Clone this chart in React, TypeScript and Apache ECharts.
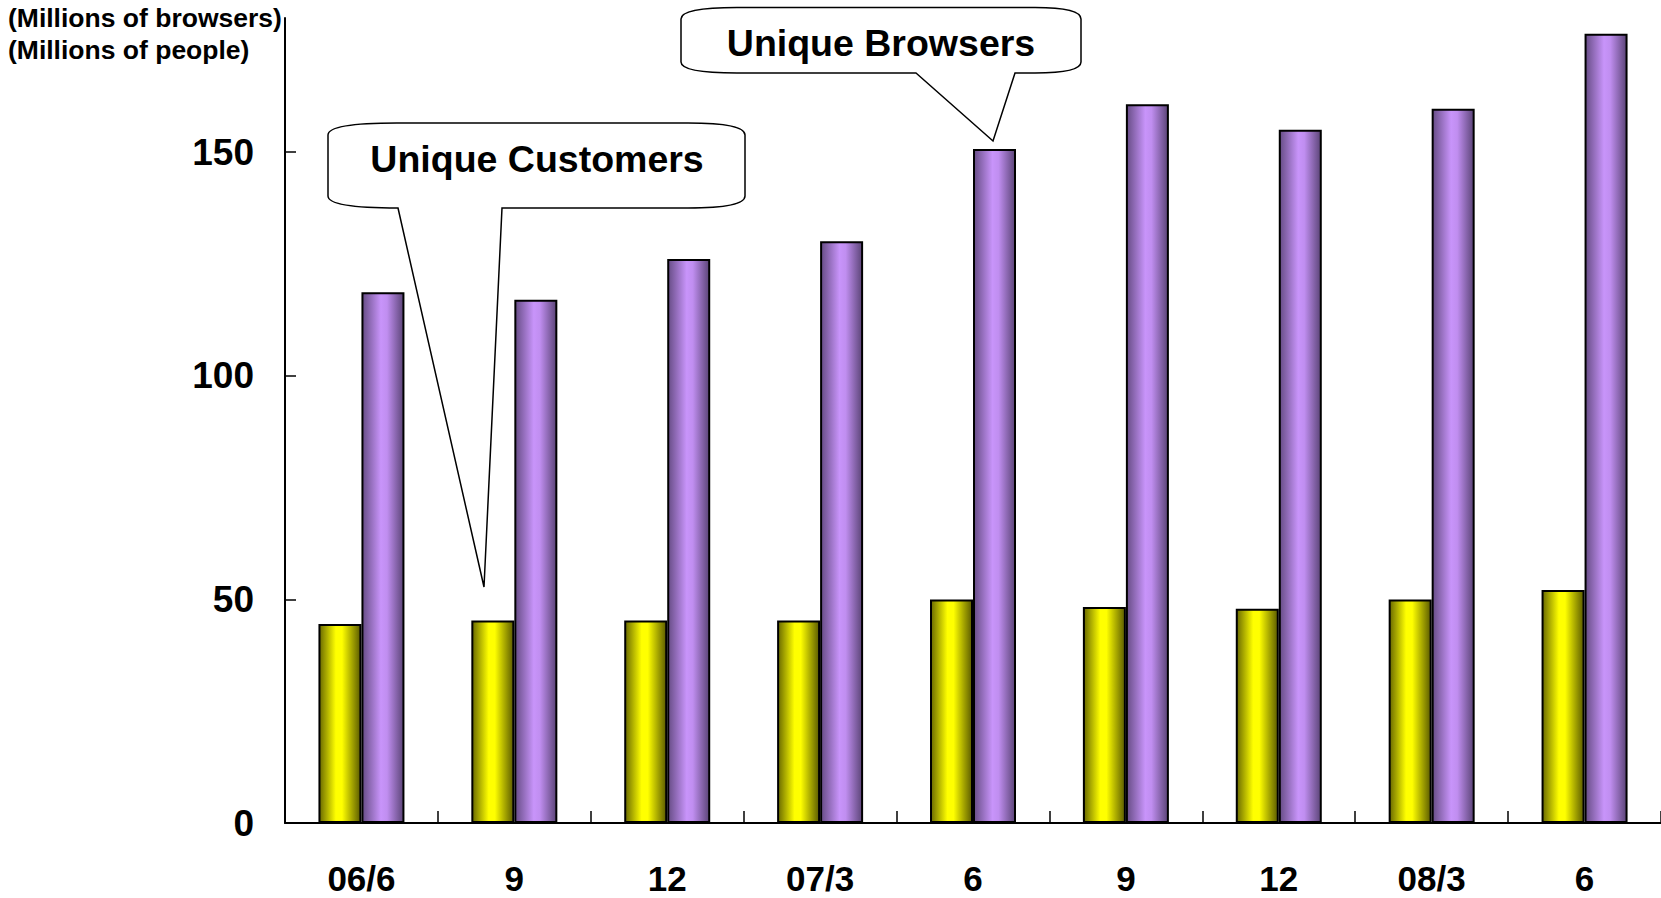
import React, { useEffect, useRef } from "react";
import * as echarts from "echarts";

const categories = ["06/6", "9", "12", "07/3", "6", "9", "12", "08/3", "6"];
const uniqueCustomers = [44.5, 45.3, 45.3, 45.3, 50.0, 48.3, 47.9, 50.0, 52.1];
const uniqueBrowsers = [118.7, 117.0, 126.1, 130.1, 150.7, 160.7, 155.0, 159.7, 176.5];
const yTicks = [0, 50, 100, 150];
const unitLines = ["(Millions of browsers)", "(Millions of people)"];
const calloutTexts = ["Unique Customers", "Unique Browsers"];

const FONT = "'Liberation Sans', Arial, sans-serif";

const customersPath =
  "M 398 208 L 484 587 L 502 208 L 688 208 Q 745 208 745 196 L 745 135 Q 745 123 688 123 L 397 123 Q 328 123 328 135 L 328 196 Q 328 208 398 208 Z";
const browsersPath =
  "M 916 73 L 993 141 L 1015 73 L 1035 73 Q 1081 73 1081 62 L 1081 19 Q 1081 7.5 1035 7.5 L 737 7.5 Q 681 7.5 681 19 L 681 62 Q 681 73 737 73 Z";

echarts.graphic.registerShape("calloutCustomers", echarts.graphic.extendPath(customersPath, {}));
echarts.graphic.registerShape("calloutBrowsers", echarts.graphic.extendPath(browsersPath, {}));

export default function App() {
  const ref = useRef<HTMLDivElement>(null);
  useEffect(() => {
    if (!ref.current) return;
    const chart = echarts.init(ref.current, undefined, { renderer: "svg" });
    const yellowGrad = new echarts.graphic.LinearGradient(0, 0, 1, 0, [
      { offset: 0, color: "#6a6a00" },
      { offset: 0.4, color: "#ffff00" },
      { offset: 0.55, color: "#ffff00" },
      { offset: 1, color: "#5c5c00" },
    ]);
    const purpleGrad = new echarts.graphic.LinearGradient(0, 0, 1, 0, [
      { offset: 0, color: "#674d86" },
      { offset: 0.45, color: "#c894fa" },
      { offset: 0.6, color: "#c08ef0" },
      { offset: 1, color: "#5c4578" },
    ]);
    chart.setOption({
      animation: false,
      backgroundColor: "#ffffff",
      grid: {
        left: 285,
        right: 0,
        top: 18,
        bottom: 75,
        containLabel: false,
        outerBoundsMode: "none",
      },
      xAxis: {
        type: "category",
        data: categories,
        axisLine: { show: true, lineStyle: { color: "#000", width: 2 } },
        axisTick: { show: true, inside: true, length: 12, lineStyle: { color: "#000", width: 1.5 } },
        axisLabel: {
          color: "#000",
          fontFamily: FONT,
          fontWeight: "bold",
          fontSize: 35,
          lineHeight: 34,
          margin: 38.5,
        },
        splitLine: { show: false },
      },
      yAxis: {
        type: "value",
        min: 0,
        max: 180,
        interval: 50,
        axisLine: { show: true, lineStyle: { color: "#000", width: 2 } },
        axisTick: {
          show: true,
          inside: true,
          length: 11,
          customValues: yTicks,
          lineStyle: { color: "#000", width: 1.5 },
        },
        axisLabel: {
          color: "#000",
          fontFamily: FONT,
          fontWeight: "bold",
          fontSize: 37,
          margin: 31,
          customValues: yTicks,
          formatter: (v: number) => (v % 50 === 0 ? String(v) : ""),
        },
        splitLine: { show: false },
      },
      series: [
        {
          name: calloutTexts[0],
          type: "bar",
          data: uniqueCustomers,
          barWidth: 43,
          barGap: "0%",
          itemStyle: { color: yellowGrad, borderColor: "#000", borderWidth: 2 },
        },
        {
          name: calloutTexts[1],
          type: "bar",
          data: uniqueBrowsers,
          barWidth: 43,
          barGap: "0%",
          itemStyle: { color: purpleGrad, borderColor: "#000", borderWidth: 2 },
        },
      ],
      graphic: [
        {
          type: "text",
          x: 8,
          y: 18,
          style: {
            text: unitLines[0],
            font: `bold 26.5px ${FONT}`,
            fill: "#000",
            textAlign: "left",
            textVerticalAlign: "middle",
          },
        },
        {
          type: "text",
          x: 8,
          y: 50,
          style: {
            text: unitLines[1],
            font: `bold 26.5px ${FONT}`,
            fill: "#000",
            textAlign: "left",
            textVerticalAlign: "middle",
          },
        },
        {
          type: "calloutCustomers",
          x: 0,
          y: 0,
          z: 100,
          style: { fill: "#fff", stroke: "#000", lineWidth: 1.5 },
        },
        {
          type: "calloutBrowsers",
          x: 0,
          y: 0,
          z: 100,
          style: { fill: "#fff", stroke: "#000", lineWidth: 1.5 },
        },
        {
          type: "text",
          x: 537,
          y: 159,
          z: 101,
          style: {
            text: calloutTexts[0],
            font: `bold 37.5px ${FONT}`,
            fill: "#000",
            textAlign: "center",
            textVerticalAlign: "middle",
          },
        },
        {
          type: "text",
          x: 881,
          y: 43,
          z: 101,
          style: {
            text: calloutTexts[1],
            font: `bold 37.5px ${FONT}`,
            fill: "#000",
            textAlign: "center",
            textVerticalAlign: "middle",
          },
        },
      ],
    });
    return () => chart.dispose();
  }, []);
  return (
    <div
      ref={ref}
      style={{ position: "fixed", left: 0, top: 0, width: 1661, height: 898 }}
    />
  );
}
